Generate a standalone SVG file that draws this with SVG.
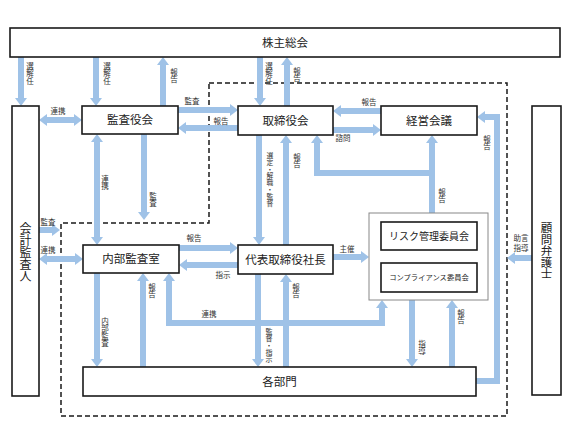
<svg xmlns="http://www.w3.org/2000/svg" width="571" height="428" viewBox="0 0 571 428">
<style>
.box{fill:#fff;stroke:#1a1a1a;stroke-width:1.6}
.inner{fill:#fff;stroke:#888;stroke-width:1}
.bt{font-family:"Noto Sans CJK JP","Noto Sans CJK SC",sans-serif;font-size:11.5px;fill:#222;text-anchor:middle}
.lb{font-family:"Noto Sans CJK JP","Noto Sans CJK SC",sans-serif;font-size:7.5px;fill:#333;text-anchor:middle}
.vt{writing-mode:vertical-rl;text-anchor:start}
.ar{fill:none;stroke:#9fc2e7;stroke-width:6;stroke-linejoin:miter}
.one{marker-end:url(#ah)}
.two{marker-start:url(#ah);marker-end:url(#ah)}
.dash{fill:none;stroke:#1a1a1a;stroke-width:1.5;stroke-dasharray:5 3}
</style>
<defs>
<marker id="ah" viewBox="0 0 8 12" refX="1" refY="6" markerWidth="8" markerHeight="12" markerUnits="userSpaceOnUse" orient="auto-start-reverse">
<path d="M0,0L8,6L0,12z" fill="#9fc2e7"/>
</marker>
</defs>
<rect width="571" height="428" fill="#fff"/>
<path class="dash" d="M209,83 L507,83 L507,416 L61,416 L61,223 L209,223 Z"/>
<g id="connectors">
<path class="ar one" d="M21,57 L21,99"/>
<path class="ar one" d="M96,57 L96,99"/>
<path class="ar one" d="M163,106 L163,64"/>
<path class="ar one" d="M260,57 L260,99"/>
<path class="ar one" d="M287,106 L287,64"/>
<path class="ar two" d="M46,120 L75,120"/>
<path class="ar one" d="M178,110 L231,110"/>
<path class="ar one" d="M238,128 L185,128"/>
<path class="ar one" d="M381,111 L340,111"/>
<path class="ar one" d="M333,130 L374,130"/>
<path class="ar two" d="M97,141 L97,238"/>
<path class="ar one" d="M144,134 L144,213"/>
<path class="ar one" d="M259,135 L259,238"/>
<path class="ar one" d="M286,245 L286,142"/>
<path class="ar one" d="M432,213 L432,142"/>
<path class="ar one" d="M435,173 L317,173 L317,142"/>
<path class="ar one" d="M476,381 L497,381 L497,117 L484,117"/>
<path class="ar one" d="M39,230 L53,230"/>
<path class="ar two" d="M46,259 L76,259"/>
<path class="ar one" d="M179,248 L231,248"/>
<path class="ar one" d="M238,265 L186,265"/>
<path class="ar one" d="M333,257 L362,257"/>
<path class="ar one" d="M97,273 L97,360"/>
<path class="ar one" d="M143,367 L143,280"/>
<path class="ar two" d="M169,280 L169,323 L382,323 L382,307"/>
<path class="ar one" d="M258,274 L258,360"/>
<path class="ar one" d="M286,367 L286,281"/>
<path class="ar one" d="M412,300 L412,360"/>
<path class="ar one" d="M452,367 L452,307"/>
<path class="ar one" d="M532,258 L514,258"/>
<text class="lb vt" x="30" y="62">選解任</text>
<text class="lb vt" x="107" y="62">選解任</text>
<text class="lb vt" x="174" y="68">報告</text>
<text class="lb vt" x="269" y="62">選解任</text>
<text class="lb vt" x="297" y="67">報告</text>
<text class="lb" x="58" y="114">連携</text>
<text class="lb" x="192" y="104">監査</text>
<text class="lb" x="221" y="124">報告</text>
<text class="lb" x="369" y="105">報告</text>
<text class="lb" x="343" y="141">諮問</text>
<text class="lb vt" x="105" y="175">連携</text>
<text class="lb vt" x="153" y="192">監査</text>
<text class="lb vt" x="270" y="152" style="font-size:6.8px">選定・解職・監督</text>
<text class="lb vt" x="297" y="153">報告</text>
<text class="lb vt" x="442" y="188">報告</text>
<text class="lb vt" x="487" y="135">報告</text>
<text class="lb" x="48" y="225">監査</text>
<text class="lb" x="48" y="253">連携</text>
<text class="lb" x="194" y="241">報告</text>
<text class="lb" x="223" y="278">指示</text>
<text class="lb" x="347" y="252">主催</text>
<text class="lb vt" x="105" y="317">内部監査</text>
<text class="lb vt" x="152" y="283">報告</text>
<text class="lb" x="209" y="317">連携</text>
<text class="lb vt" x="269" y="328" style="font-size:7px">監督・指示</text>
<text class="lb vt" x="296" y="283">報告</text>
<text class="lb vt" x="422" y="340">指導</text>
<text class="lb vt" x="461" y="309">報告</text>
<text class="lb" x="521" y="241">助言</text>
<text class="lb" x="521" y="251">指導</text>
</g>
<g id="kabunushi"><rect class="box" x="10" y="28" width="550" height="29"/><text class="bt" x="285" y="47">株主総会</text></g>
<g id="kaikei"><rect class="box" x="12" y="106" width="27" height="290"/><text class="bt vt" x="25.5" y="222" style="font-size:12px">会計監査人</text></g>
<g id="komon"><rect class="box" x="532" y="106" width="29" height="289"/><text class="bt vt" x="546.5" y="222">顧問弁護士</text></g>
<g id="kansayakukai"><rect class="box" x="82" y="106" width="96" height="28"/><text class="bt" x="130" y="124">監査役会</text></g>
<g id="torishimariyakukai"><rect class="box" x="238" y="106" width="95" height="29"/><text class="bt" x="285.5" y="124.5">取締役会</text></g>
<g id="keiei"><rect class="box" x="381" y="106" width="96" height="29"/><text class="bt" x="429" y="124.5">経営会議</text></g>
<g id="naibu"><rect class="box" x="83" y="245" width="96" height="28"/><text class="bt" x="131" y="263">内部監査室</text></g>
<g id="shacho"><rect class="box" x="238" y="245" width="95" height="29"/><text class="bt" x="285.5" y="263.5">代表取締役社長</text></g>
<g id="iinkai"><rect class="inner" x="369" y="213" width="119" height="87"/></g>
<g id="risk"><rect class="box" x="381" y="222" width="96" height="28"/><text class="bt" x="429" y="239.5" style="font-size:10px">リスク管理委員会</text></g>
<g id="compliance"><rect class="box" x="381" y="263" width="96" height="29"/><text class="bt" x="429" y="280" style="font-size:7.3px">コンプライアンス委員会</text></g>
<g id="kakubumon"><rect class="box" x="83" y="367" width="393" height="29"/><text class="bt" x="279.5" y="385.5">各部門</text></g>
</svg>
